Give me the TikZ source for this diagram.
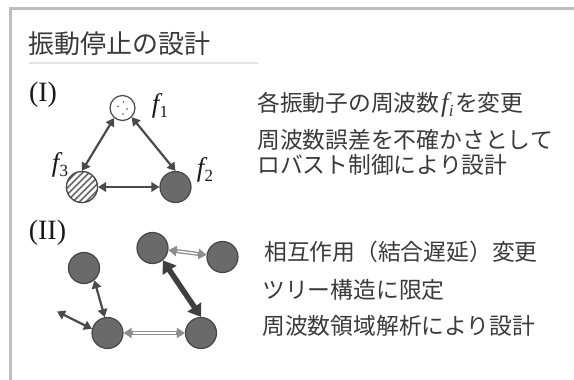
\documentclass[tikz,border=0pt]{standalone}
\usepackage{fontspec}
\newfontfamily\cjk{Noto Sans CJK JP}
\newfontfamily\lserif{Liberation Serif}
\usetikzlibrary{arrows.meta,calc}
\definecolor{txt}{HTML}{3A3A3A}
\definecolor{framegray}{HTML}{BDBDBD}
\definecolor{ulgray}{HTML}{E2E2E2}
\definecolor{nodegray}{HTML}{6A6A6A}
\definecolor{nodeedge}{HTML}{474747}
\definecolor{arrowdark}{HTML}{4A4A4A}
\definecolor{hollowgray}{HTML}{8C8C8C}
\newcommand{\fsym}[1]{{\lserif\fontsize{27}{30}\selectfont\itshape f\kern0.3pt\raisebox{-5pt}{\fontsize{17}{20}\selectfont #1}}}
\begin{document}
\begin{tikzpicture}[x=1pt,y=-1pt,
  osc/.style={circle, draw=nodeedge, line width=1.2pt, minimum size=31pt, inner sep=0pt, fill=nodegray},
  body/.style={anchor=base west, inner sep=0pt, text=txt, font=\cjk\fontsize{22.8}{26}\selectfont},
  lab/.style={inner sep=0pt, text=black!90, font=\lserif\fontsize{28}{32}\selectfont},
  flab/.style={inner sep=0pt, text=black!90},
  darrow/.style={draw=arrowdark, line width=2.2pt, {Triangle[length=8pt,width=9.5pt]}-{Triangle[length=8pt,width=9.5pt]}},
  thickarrow/.style={draw=arrowdark!85!black, line width=5.5pt, {Triangle[length=12pt,width=16pt]}-{Triangle[length=12pt,width=16pt]}},
  hollowbase/.style={draw=hollowgray, line width=4pt, {Triangle[length=8pt,width=10pt]}-{Triangle[length=8pt,width=10pt]}},
  hollowcore/.style={draw=white, line width=1.4pt, shorten <=9pt, shorten >=9pt}
]
\useasboundingbox (0,0) rectangle (574,380);
\fill[white] (0,0) rectangle (574,380);
% frame
\draw[framegray, line width=2.2pt] (10.5,381) -- (10.5,8.5) -- (575,8.5);
% title
\node[anchor=base west, inner sep=0pt, text=txt, font=\cjk\fontsize{26}{30}\selectfont] (title) at (28,53) {振動停止の設計};
\draw[ulgray, line width=2.5pt] (29,63) -- (258,63);

% ----- (I)
\node[lab] (l1) at (43,95) {(I)};
\node[osc, fill=white, minimum size=25pt] (f1) at (122.5,108) {};
\foreach \dx/\dy in {-4.5/-1.5, 1/-6, 4.5/1, 0.5/6} \fill[black!70] ($(f1.center)+(\dx,\dy)$) circle (0.8);
\node[osc] (f3) at (82,187) {};
\begin{scope}
  \clip (82,187) circle (15.5);
  \foreach \k in {-30,-23.5,...,30} \draw[white, line width=2.6pt] (82+\k-20,187+20) -- (82+\k+20,187-20);
\end{scope}
\node[osc, fill=none] at (82,187) {};
\node[osc] (f2) at (175.5,187) {};
\node[flab] (t1) at (160,106) {\fsym{\upshape 1}};
\node[flab] (t2) at (205,170) {\fsym{\upshape 2}};
\node[flab] (t3) at (60,165) {\fsym{\upshape 3}};
\draw[darrow] (f1.230) -- (f3.north);
\draw[darrow] (f1.-45) -- (f2.north);
\draw[darrow] (f3.east) -- (f2.west);

\node[body] (a1) at (257,111.6) {各振動子の周波数\kern1.5pt\fsym{i}\kern1.5pt を変更};
\node[body] (a2) at (257,148.6) {周波数誤差を不確かさとして};
\node[body] (a3) at (257,173.6) {ロバスト制御により設計};

% ----- (II)
\node[lab] (l2) at (47.5,233) {(II)};
\node[osc] (A) at (84,268) {};
\node[osc] (B) at (152.5,248) {};
\node[osc] (C) at (222.5,257) {};
\node[osc] (D) at (107.5,333) {};
\node[osc] (E) at (201,333) {};
\coordinate (free) at (57,311.5);
\draw[darrow] (A.-50) -- (D.100);
\draw[darrow] (free) -- (D.165);
\draw[hollowbase] (D) -- (E);
\draw[hollowcore] (D) -- (E);
\draw[hollowbase] (B) -- (C);
\draw[hollowcore] (B) -- (C);
\draw[thickarrow] (B.-50) -- (E.north);

\node[body] (b1) at (264,260.6) {相互作用（結合遅延）変更};
\node[body] (b2) at (262,298.6) {ツリー構造に限定};
\node[body] (b3) at (262,334.6) {周波数領域解析により設計};
\end{tikzpicture}
\end{document}
